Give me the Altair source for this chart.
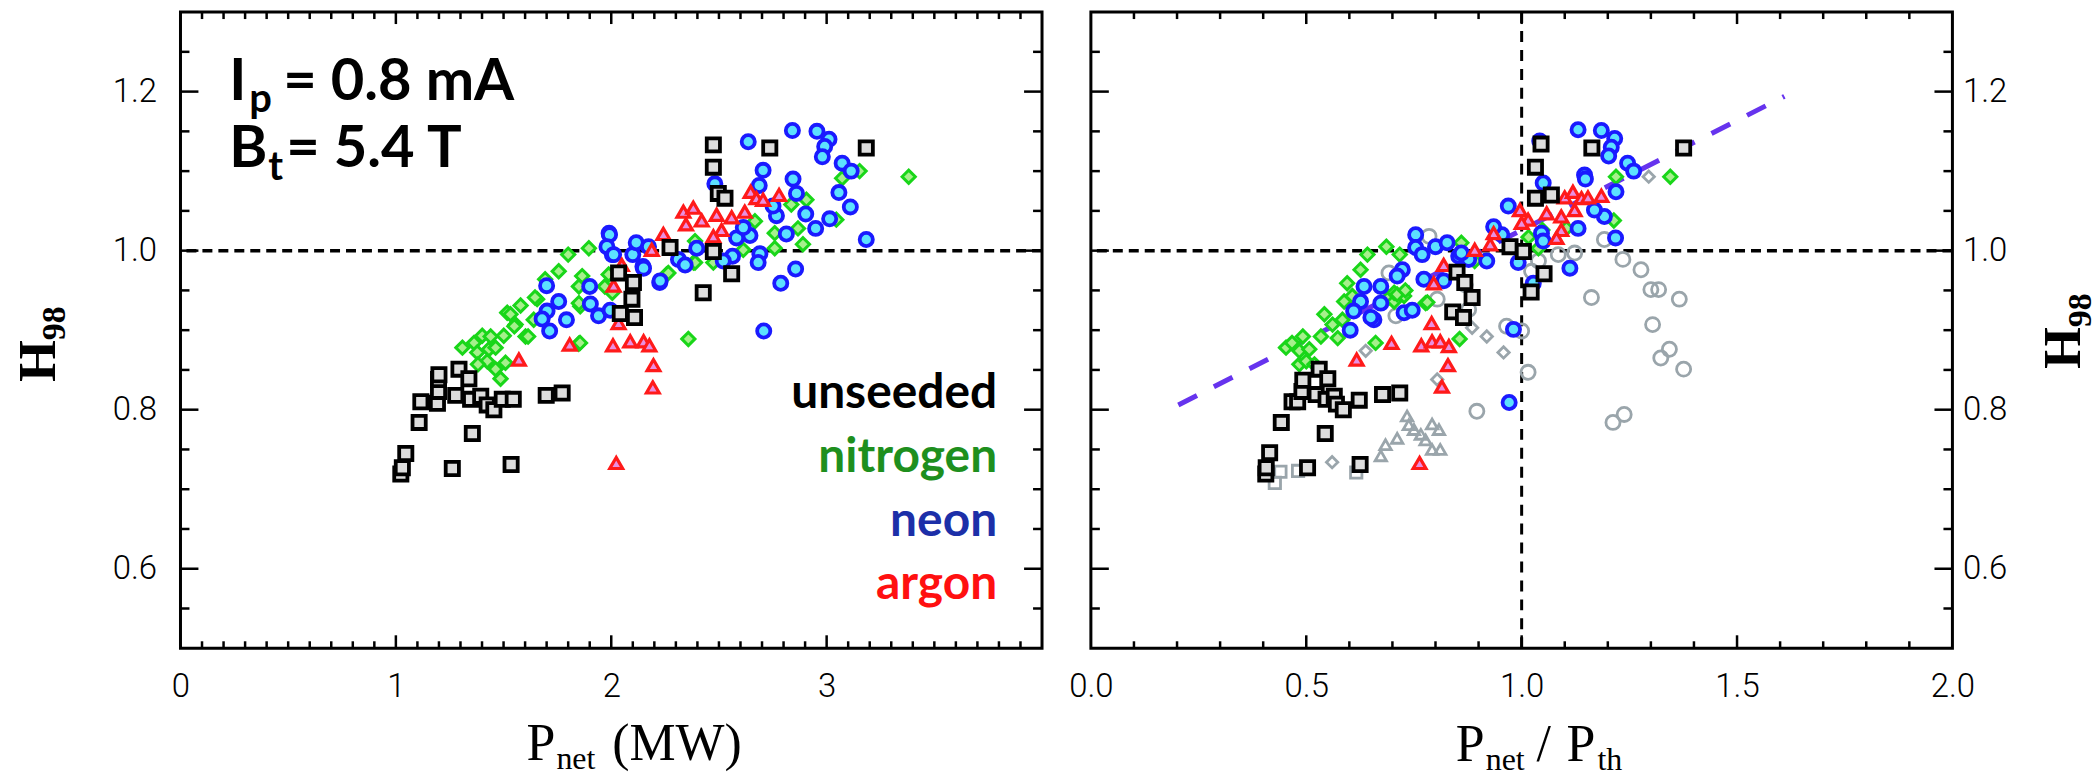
import altair as alt
import pandas as pd

# ---------------- data ----------------
# Left panel: x = P_net (MW), y = H98
unseeded_p = [1.023, 1.030, 1.046, 1.108, 1.116, 1.193, 1.198, 1.198, 1.200, 1.293, 1.278, 1.339, 1.347,
              1.355, 1.394, 1.424, 1.455, 1.494, 1.545, 1.262, 1.535, 1.698, 1.772,
              2.096, 2.042, 2.108, 2.474, 2.474, 2.736, 3.184, 2.497, 2.528, 2.273, 2.474, 2.559, 2.427,
              2.034, 2.103]
unseeded_h = [0.719, 0.727, 0.745, 0.784, 0.810, 0.808, 0.823, 0.838, 0.844, 0.851, 0.818, 0.839, 0.813,
              0.770, 0.817, 0.806, 0.800, 0.813, 0.813, 0.726, 0.731, 0.818, 0.821,
              0.939, 0.921, 0.916, 1.133, 1.105, 1.129, 1.129, 1.072, 1.066, 1.004, 0.999, 0.971, 0.947,
              0.972, 0.960]

nitrogen_p = [1.309, 1.363, 1.378, 1.401, 1.432, 1.463, 1.424, 1.381, 1.463, 1.486, 1.509, 1.501, 1.517,
              1.532, 1.556, 1.579, 1.602, 1.640, 1.656, 1.849, 1.856, 2.358, 1.800, 1.896, 1.756, 1.693,
              1.865, 1.850, 1.850, 2.005, 1.646, 1.550, 1.440, 1.614, 2.257, 2.382, 3.381, 3.153, 3.072,
              2.906, 2.836, 3.045, 2.867, 2.890, 2.759, 2.759, 2.667, 2.613, 2.389, 2.389, 2.265, 2.474,
              1.988, 1.970, 1.855]
nitrogen_h = [0.878, 0.884, 0.872, 0.893, 0.876, 0.878, 0.861, 0.857, 0.851, 0.839, 0.859, 0.893, 0.922,
              0.920, 0.907, 0.931, 0.892, 0.913, 0.939, 0.883, 0.930, 0.889, 0.995, 1.003, 0.974, 0.964,
              0.968, 0.955, 0.934, 0.947, 0.941, 0.905, 0.892, 0.892, 0.970, 0.985, 1.093, 1.100, 1.091,
              1.064, 1.058, 1.039, 1.028, 1.008, 1.022, 1.003, 1.037, 1.001, 1.012, 0.985, 0.972, 0.985,
              0.970, 0.955, 0.884]

neon_p = [1.702, 1.714, 1.756, 1.792, 1.679, 1.903, 1.941, 1.995, 1.700, 1.990, 2.005, 1.900, 2.147,
          2.100, 2.116, 2.225, 2.636, 2.841, 2.955, 3.011, 2.991, 2.980, 3.072, 3.114, 2.705, 2.687,
          2.844, 2.860, 2.481, 3.057, 3.110, 2.903, 3.014, 2.949, 2.767, 2.813, 3.184, 2.751, 2.644,
          2.582, 2.563, 2.690, 2.682, 2.856, 2.787, 2.708, 2.397, 2.312, 2.343, 2.227, 2.150, 2.173,
          1.992, 1.980, 2.011, 2.520, 2.613]
neon_h = [0.924, 0.899, 0.936, 0.913, 0.914, 0.933, 0.918, 0.925, 0.956, 1.022, 0.995, 0.955, 0.980,
          0.995, 1.010, 0.960, 1.137, 1.151, 1.150, 1.140, 1.131, 1.118, 1.110, 1.100, 1.101, 1.082,
          1.090, 1.072, 1.084, 1.073, 1.055, 1.046, 1.040, 1.028, 1.044, 1.021, 1.014, 1.056, 1.019,
          1.016, 0.993, 0.996, 0.985, 0.977, 0.959, 0.899, 1.003, 0.989, 0.982, 0.962, 0.978, 1.005,
          1.020, 1.005, 0.995, 0.987, 1.029]

argon_p = [1.571, 1.807, 2.008, 2.088, 2.150, 2.177, 2.196, 2.193, 2.023, 2.034, 2.335, 2.381, 2.347,
           2.420, 2.489, 2.559, 2.620, 2.647, 2.674, 2.705, 2.779, 2.512, 2.474, 2.242, 2.188, 2.049,
           2.011]
argon_h = [0.863, 0.882, 0.881, 0.886, 0.886, 0.881, 0.856, 0.828, 0.733, 0.909, 1.049, 1.054, 1.033,
           1.038, 1.045, 1.042, 1.049, 1.074, 1.066, 1.064, 1.070, 1.026, 1.018, 1.021, 1.001, 0.982,
           0.956]

# Right panel: x = P_net / P_th, y = H98
unseeded_r = [0.406, 0.407, 0.415, 0.442, 0.467, 0.480, 0.490, 0.492, 0.523, 0.530, 0.550, 0.546, 0.565,
              0.570, 0.586, 0.623, 0.544, 0.677, 0.717, 0.503, 0.625,
              1.045, 1.163, 1.032, 1.069, 1.032, 0.973, 1.004, 1.052, 1.022, 0.850, 0.868, 0.885, 0.840,
              0.865, 1.376]
unseeded_rh = [0.719, 0.727, 0.746, 0.784, 0.810, 0.810, 0.823, 0.837, 0.819, 0.851, 0.839, 0.813, 0.817,
               0.807, 0.800, 0.812, 0.770, 0.819, 0.821, 0.727, 0.731,
               1.134, 1.129, 1.105, 1.070, 1.066, 1.005, 0.999, 0.971, 0.948, 0.973, 0.960, 0.941, 0.923,
               0.916, 1.129]

nitrogen_r = [0.453, 0.467, 0.484, 0.492, 0.507, 0.484, 0.500, 0.519, 0.534, 0.542, 0.561, 0.573, 0.584,
              0.588, 0.607, 0.661, 0.692, 0.727, 0.777, 0.595, 0.626, 0.642, 0.686, 0.717, 0.704, 0.704,
              0.856, 0.860, 0.891, 1.016, 1.048, 1.214, 1.219, 1.345, 0.781, 1.039, 0.711, 0.730, 1.104]
nitrogen_rh = [0.878, 0.884, 0.874, 0.892, 0.876, 0.857, 0.861, 0.857, 0.892, 0.920, 0.907, 0.890, 0.913,
               0.936, 0.943, 0.884, 0.941, 0.943, 0.934, 0.959, 0.976, 0.995, 1.005, 0.995, 0.936, 0.947,
               0.889, 1.010, 0.987, 1.017, 1.026, 1.038, 1.093, 1.093, 0.935, 1.003, 0.945, 0.950, 1.028]

neon_r = [1.131, 1.185, 1.216, 1.208, 1.202, 1.246, 1.260, 1.042, 1.050, 1.146, 1.148, 1.219, 1.192,
          1.131, 1.169, 1.218, 1.112, 1.046, 1.050, 1.027, 0.969, 0.954, 0.935, 0.981, 0.754, 0.754,
          0.769, 0.800, 0.827, 0.854, 0.877, 0.919, 0.992, 0.723, 0.773, 0.727, 0.819, 0.634, 0.626,
          0.610, 0.657, 0.602, 0.673, 0.711, 0.860, 0.971, 0.650, 0.673, 0.746]
neon_rh = [1.152, 1.151, 1.141, 1.130, 1.119, 1.110, 1.100, 1.138, 1.085, 1.095, 1.090, 1.074, 1.043,
           1.028, 1.051, 1.016, 0.978, 1.022, 1.012, 0.959, 1.056, 1.020, 1.030, 0.901, 1.020, 1.004,
           0.995, 1.005, 1.010, 0.993, 0.989, 0.987, 0.985, 0.976, 0.964, 0.922, 0.962, 0.955, 0.936,
           0.924, 0.913, 0.900, 0.955, 0.968, 0.997, 0.809, 0.916, 0.934, 0.925]

argon_r = [0.996, 1.015, 1.000, 1.058, 1.092, 1.123, 1.100, 1.119, 1.139, 1.154, 1.185, 1.092, 1.081,
           0.935, 0.927, 0.891, 0.819, 0.796, 0.791, 0.698, 0.767, 0.792, 0.811, 0.831, 0.829, 0.815,
           0.763, 0.617]
argon_rh = [1.051, 1.039, 1.035, 1.047, 1.043, 1.051, 1.067, 1.074, 1.066, 1.067, 1.069, 1.026, 1.016,
            1.022, 1.008, 1.001, 0.982, 0.959, 0.909, 0.884, 0.881, 0.886, 0.886, 0.880, 0.856, 0.829,
            0.733, 0.863]

# grey (open) comparison points in the right panel
grey_circle_r = [0.692, 0.708, 0.785, 0.804, 0.869, 0.877, 0.896, 0.965, 1.000, 1.015, 1.023, 1.039,
                 1.085, 1.123, 1.162, 1.192, 1.212, 1.238, 1.235, 1.277, 1.300, 1.318, 1.304, 1.323,
                 1.343, 1.366, 1.376]
grey_circle_h = [0.972, 0.918, 1.018, 0.939, 0.957, 0.926, 0.798, 0.905, 0.899, 0.847, 0.974, 0.987,
                 0.995, 0.997, 0.941, 1.014, 0.784, 0.794, 0.989, 0.976, 0.951, 0.951, 0.907, 0.865,
                 0.876, 0.939, 0.851]
grey_diamond_r = [0.560, 0.638, 0.804, 0.885, 0.919, 0.958, 1.295]
grey_diamond_h = [0.734, 0.874, 0.838, 0.903, 0.892, 0.872, 1.093]
grey_square_r = [0.427, 0.440, 0.481, 0.616]
grey_square_h = [0.708, 0.722, 0.723, 0.721]
grey_tri_r = [0.673, 0.684, 0.711, 0.734, 0.738, 0.766, 0.777, 0.792, 0.808, 0.792, 0.811, 0.750]
grey_tri_h = [0.742, 0.756, 0.764, 0.792, 0.781, 0.769, 0.762, 0.782, 0.775, 0.750, 0.750, 0.775]

# dashed scaling line (right panel)
fit_r = [0.203, 1.610]
fit_h = [0.806, 1.194]

# axes
left_x_labels = [0, 1, 2, 3]
right_x_labels = [0.0, 0.5, 1.0, 1.5, 2.0]
y_labels = [0.6, 0.8, 1.0, 1.2]
left_x_major = [1, 2, 3]
left_x_minor = [round(i * 0.1, 1) for i in range(1, 40) if i % 10 != 0]
right_x_major = [0.5, 1.0, 1.5]
right_x_minor = [round(i * 0.1, 1) for i in range(1, 20) if i % 5 != 0]
y_major = [0.6, 0.8, 1.0, 1.2]
y_minor = [round(0.5 + i * 0.05, 2) for i in range(1, 16)]
y_minor = [v for v in y_minor if v not in y_major]

legend_names = ["unseeded", "nitrogen", "neon", "argon"]
legend_colors = ["#000000", "#1e8f1e", "#1c2fa8", "#ff1010"]

# ---------------- chart ----------------
W, H = 864, 638
LBL_FONT = "Roboto"
LBL_SIZE = 33
SERIF = "Liberation Serif"
SANS_B = "Lato"

xs_left = alt.Scale(domain=[0, 4], nice=False, zero=False)
xs_right = alt.Scale(domain=[0, 2], nice=False, zero=False)
ys = alt.Scale(domain=[0.5, 1.3], nice=False, zero=False)

lbl = dict(title=None, labels=True, ticks=False, domain=False, grid=False, labelFlush=False,
           labelFont=LBL_FONT, labelFontSize=LBL_SIZE, labelFontWeight=300, labelColor="black",
           labelOverlap=False)
ax_x_left = alt.Axis(values=left_x_labels, format="d", labelPadding=22, **lbl)
ax_x_right = alt.Axis(values=right_x_labels, format=".1f", labelPadding=22, **lbl)
ax_y_left = alt.Axis(values=y_labels, format=".1f", orient="left", labelPadding=24, **lbl)
ax_y_right = alt.Axis(values=y_labels, format=".1f", orient="right", labelPadding=10, **lbl)


def panel(xs, axx, axy):
    X = lambda f: alt.X(f, scale=xs, axis=axx)
    Y = lambda f: alt.Y(f, scale=ys, axis=axy)

    def scatter(xv, yv, shape, size, fill, stroke, sw):
        df = pd.DataFrame({"x": xv, "y": yv})
        return alt.Chart(df).mark_point(shape=shape, size=size, filled=True, fill=fill, stroke=stroke,
                                        strokeWidth=sw, opacity=1).encode(x=X("x:Q"), y=Y("y:Q"))

    def xticks(vals, length, side):
        df = pd.DataFrame({"v": vals})
        y1, y2 = (H, H - length) if side == "bottom" else (0, length)
        return alt.Chart(df).mark_rule(color="black", strokeWidth=2.5).encode(
            x=X("v:Q"), y=alt.value(y1), y2=alt.value(y2))

    def yticks(vals, length, side):
        df = pd.DataFrame({"v": vals})
        x1, x2 = (0, length) if side == "left" else (W, W - length)
        return alt.Chart(df).mark_rule(color="black", strokeWidth=2.5).encode(
            y=Y("v:Q"), x=alt.value(x1), x2=alt.value(x2))

    def hline():
        return alt.Chart(pd.DataFrame({"v": [1.0]})).mark_rule(
            color="black", strokeWidth=3.5, strokeDash=[10, 6]).encode(y=Y("v:Q"))

    def vline():
        return alt.Chart(pd.DataFrame({"v": [1.0]})).mark_rule(
            color="black", strokeWidth=3, strokeDash=[11, 8]).encode(x=X("v:Q"))

    def fitline(xv, yv):
        return alt.Chart(pd.DataFrame({"x": xv, "y": yv})).mark_line(
            color="#6633ee", strokeWidth=5, strokeDash=[21, 19]).encode(x=X("x:Q"), y=Y("y:Q"))

    return scatter, xticks, yticks, hline, vline, fitline


def txt(text, x, y, size, font, weight="normal", color="black", align="left", angle=0):
    df = pd.DataFrame({"t": [text]})
    return alt.Chart(df).mark_text(font=font, fontSize=size, fontWeight=weight, color=color,
                                   align=align, baseline="alphabetic", angle=angle).encode(
        x=alt.value(x), y=alt.value(y), text="t:N")


def frame_ticks(xticks, yticks, xmaj, xmin):
    return [
        xticks(xmaj, 13, "bottom"), xticks(xmin, 7, "bottom"),
        xticks(xmaj, 12, "top"), xticks(xmin, 7, "top"),
        yticks(y_major, 18, "left"), yticks(y_minor, 9, "left"),
        yticks(y_major, 18, "right"), yticks(y_minor, 9, "right"),
    ]


# ---- left panel ----
sc, xt, yt, hl, vl, fl = panel(xs_left, ax_x_left, ax_y_left)
left_layers = frame_ticks(xt, yt, left_x_major, left_x_minor) + [
    hl(),
    sc(nitrogen_p, nitrogen_h, "diamond", 175, "#a6f08c", "#19d619", 3),
    sc(neon_p, neon_h, "circle", 175, "#5ce1ff", "#1a1aff", 3.8),
    sc(argon_p, argon_h, "triangle-up", 165, "#e98fe0", "#ff1a1a", 3.2),
    sc(unseeded_p, unseeded_h, "square", 175, "#dddddd", "#000000", 3.8),
    # annotation
    txt("I", 49, 88, 58, SANS_B, "bold"),
    txt("p", 69, 100, 40, SANS_B, "bold"),
    txt("= 0.8 mA", 103, 88, 58, SANS_B, "bold"),
    txt("B", 49, 155, 58, SANS_B, "bold"),
    txt("t", 88, 168, 40, SANS_B, "bold"),
    txt("= 5.4 T", 106, 155, 58, SANS_B, "bold"),
    # titles
    txt("P", 347, 750, 52, SERIF),
    txt("net", 377, 759, 32, SERIF),
    txt("(MW)", 433, 750, 52, SERIF),
    txt("H", -126, 371, 54, SERIF, "bold", angle=270),
    txt("98", -116, 329, 34, SERIF, "bold", angle=270),
]
for i, (nm, col) in enumerate(zip(legend_names, legend_colors)):
    left_layers.append(txt(nm, 819, 397 + 64 * i, 48, SANS_B, "bold", col, align="right"))

left = alt.layer(*left_layers).properties(width=W, height=H)

# ---- right panel ----
sc, xt, yt, hl, vl, fl = panel(xs_right, ax_x_right, ax_y_right)
right_layers = frame_ticks(xt, yt, right_x_major, right_x_minor) + [
    hl(), vl(), fl(fit_r, fit_h),
    sc(grey_circle_r, grey_circle_h, "circle", 200, "transparent", "#9aa5ab", 2.8),
    sc(grey_diamond_r, grey_diamond_h, "diamond", 130, "transparent", "#9aa5ab", 2.8),
    sc(grey_square_r, grey_square_h, "square", 130, "transparent", "#9aa5ab", 2.8),
    sc(grey_tri_r, grey_tri_h, "triangle-up", 130, "transparent", "#9aa5ab", 2.8),
    sc(nitrogen_r, nitrogen_rh, "diamond", 175, "#a6f08c", "#19d619", 3),
    sc(neon_r, neon_rh, "circle", 175, "#5ce1ff", "#1a1aff", 3.8),
    sc(argon_r, argon_rh, "triangle-up", 165, "#e98fe0", "#ff1a1a", 3.2),
    sc(unseeded_r, unseeded_rh, "square", 175, "#dddddd", "#000000", 3.8),
    txt("P", 366, 751, 52, SERIF),
    txt("net", 396, 760, 32, SERIF),
    txt("/", 447, 751, 52, SERIF),
    txt("P", 477, 751, 52, SERIF),
    txt("th", 508, 760, 32, SERIF),
    txt("H", 992, 358, 54, SERIF, "bold", angle=270),
    txt("98", 1003, 316, 34, SERIF, "bold", angle=270),
]
right = alt.layer(*right_layers).properties(width=W, height=H)

chart = alt.hconcat(left, right, spacing=21).properties(
    padding={"left": 10, "top": 8, "right": 0, "bottom": 0}
).configure_view(stroke="black", strokeWidth=3).configure_axis(
    grid=False, ticks=False, domain=False, labelFont=LBL_FONT, labelFontWeight=300,
    labelFontSize=LBL_SIZE, labelColor="black"
)

chart.save("out.html", embed_options={"renderer": "svg", "actions": False})
